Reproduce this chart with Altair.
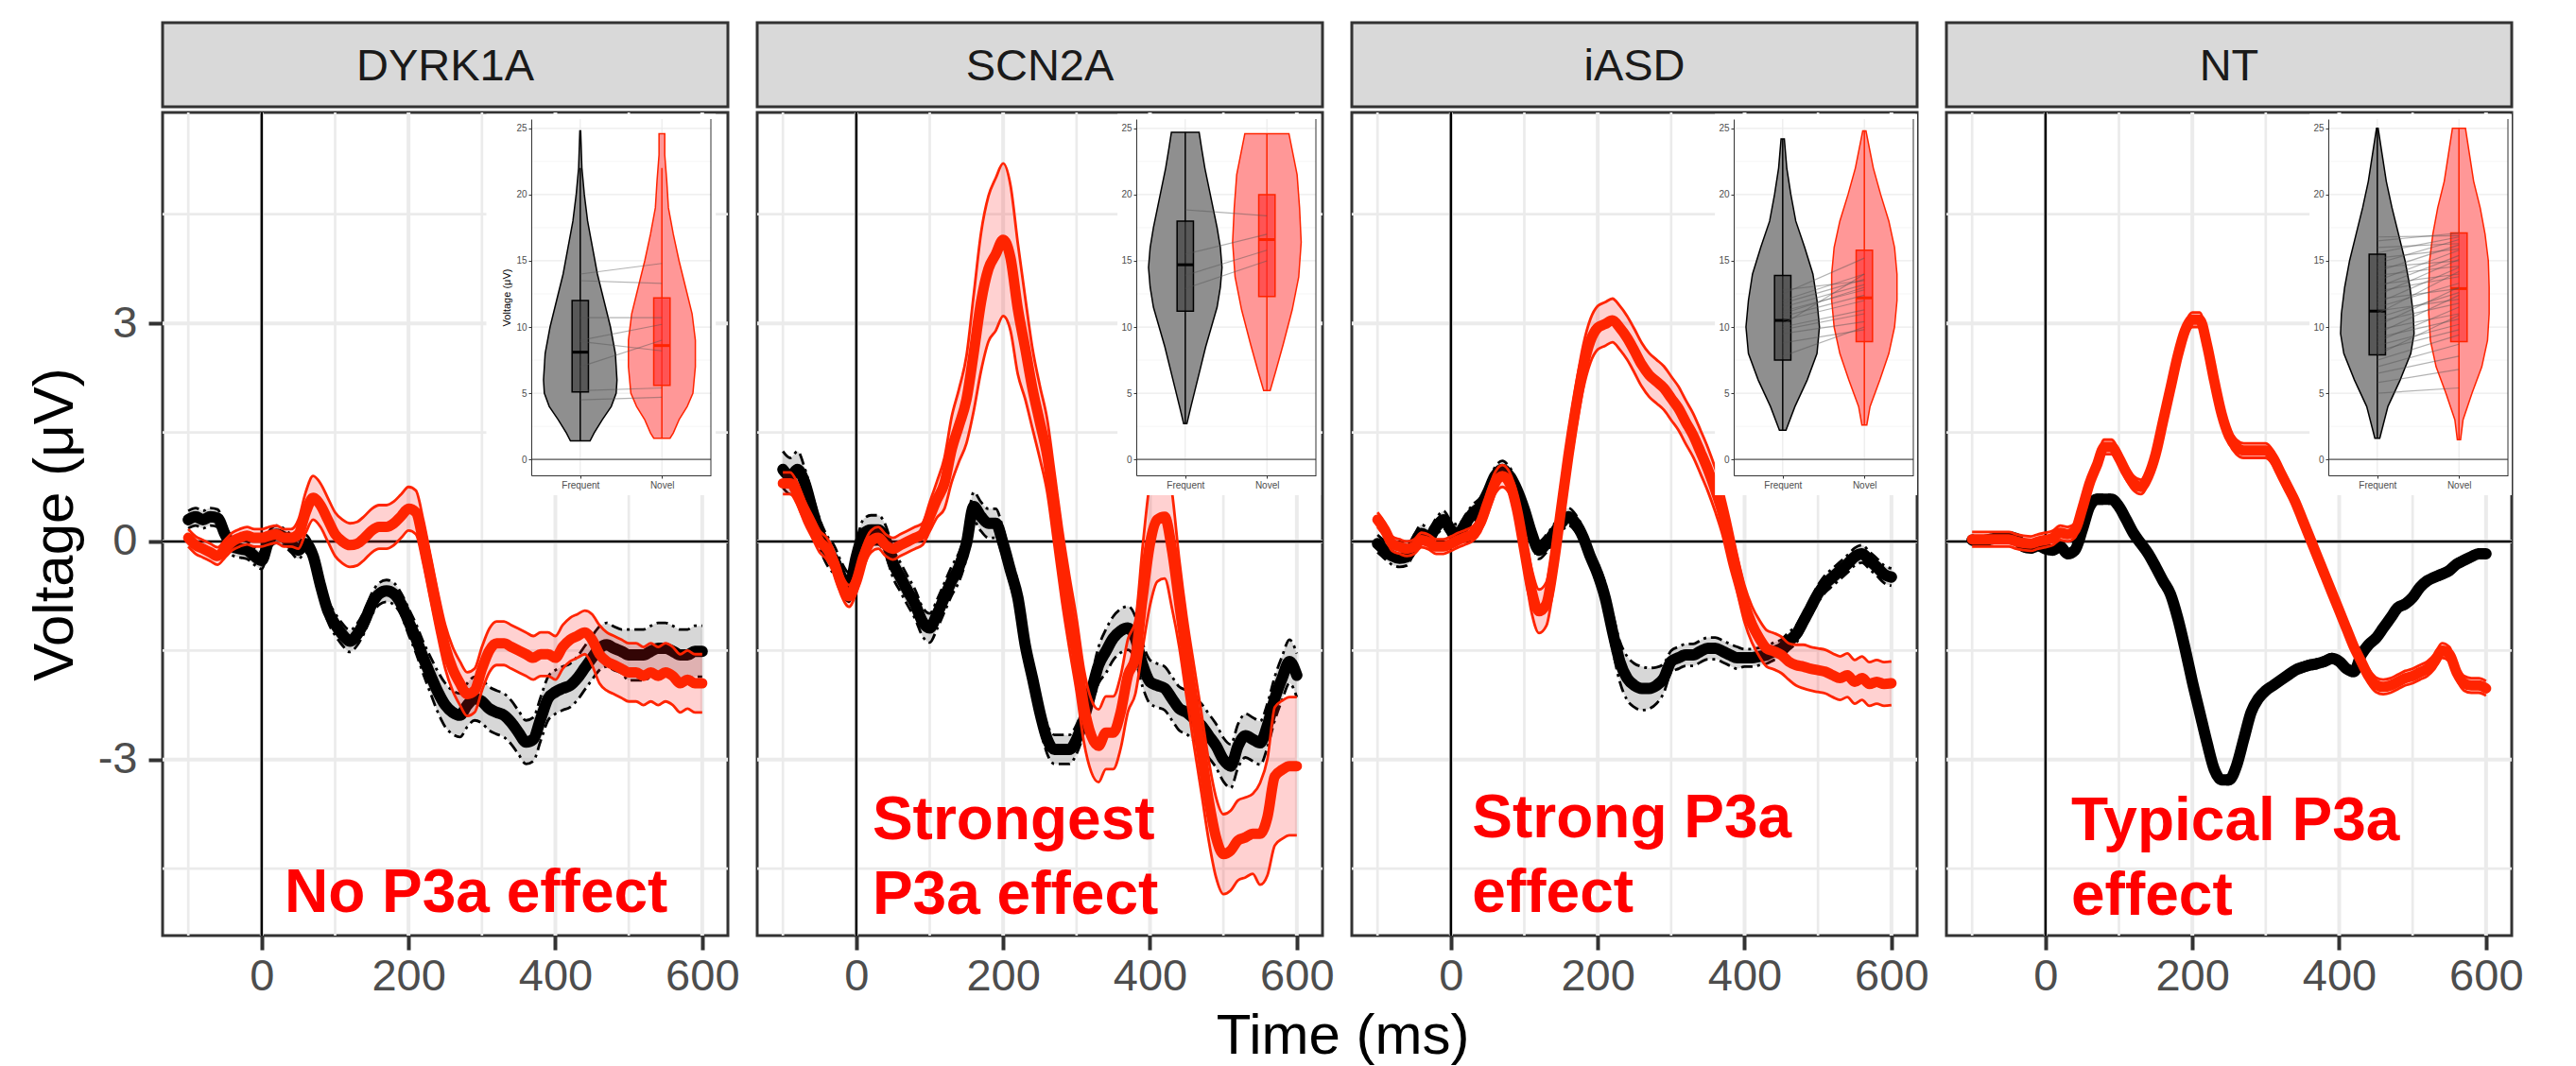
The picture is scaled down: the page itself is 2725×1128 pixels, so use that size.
import altair as alt
import pandas as pd

FONT = "Liberation Sans"

# ---------------- data ----------------
TIMES = list(range(-100, 601, 10))
GROUPS = ["DYRK1A", "SCN2A", "iASD", "NT"]
CONDS = ["Frequent", "Novel"]
COND_POS = [1, 2]

DYRK1A_FREQ = [0.30, 0.34, 0.30, 0.34, 0.32, 0.10, -0.07, -0.10, -0.12, -0.20,
               -0.26, 0.02, 0.10, 0.06, -0.03, -0.12, -0.03, -0.20, -0.60, -0.95,
               -1.14, -1.28, -1.37, -1.28, -1.10, -0.86, -0.72, -0.68, -0.72, -0.86,
               -1.10, -1.33, -1.60, -1.84, -2.07, -2.25, -2.35, -2.39, -2.25, -2.16,
               -2.20, -2.30, -2.35, -2.39, -2.49, -2.63, -2.76, -2.72, -2.44, -2.16,
               -2.07, -2.02, -1.98, -1.88, -1.74, -1.60, -1.47, -1.42, -1.47, -1.51,
               -1.56, -1.56, -1.56, -1.51, -1.47, -1.47, -1.51, -1.56, -1.56, -1.51,
               -1.51]
DYRK1A_FREQ_SE = [0.12] * 10 + [0.12] * 8 + [0.15, 0.15] + [0.15] * 10 + \
                 [0.18, 0.2, 0.22, 0.25, 0.28, 0.3, 0.3, 0.3, 0.3, 0.3] + [0.3] * 20 + [0.35] * 11
DYRK1A_NOV = [0.05, -0.05, -0.10, -0.15, -0.20, -0.10, 0.00, 0.05, 0.08, 0.05,
              0.05, 0.08, 0.10, 0.05, 0.05, 0.10, 0.40, 0.60, 0.50, 0.30,
              0.10, 0.00, -0.05, -0.03, 0.05, 0.15, 0.20, 0.20, 0.25, 0.35,
              0.45, 0.40, 0.00, -0.50, -1.00, -1.45, -1.75, -1.95, -2.10, -2.05,
              -1.75, -1.50, -1.40, -1.40, -1.45, -1.50, -1.55, -1.60, -1.55, -1.55,
              -1.60, -1.45, -1.35, -1.30, -1.25, -1.35, -1.55, -1.65, -1.70, -1.75,
              -1.80, -1.80, -1.85, -1.80, -1.85, -1.80, -1.85, -1.95, -1.90, -1.95,
              -1.95]
DYRK1A_NOV_SE = [0.12] * 15 + [0.2, 0.28, 0.3, 0.3, 0.3] + [0.3] * 35 + \
                [0.35, 0.4, 0.4, 0.4, 0.4] + [0.4] * 11

SCN2A_FREQ = [0.99, 0.90, 0.99, 0.80, 0.44, 0.11, -0.12, -0.26, -0.49, -0.63,
              -0.21, 0.11, 0.16, 0.16, 0.02, -0.30, -0.49, -0.68, -0.86, -1.10,
              -1.19, -1.00, -0.77, -0.54, -0.35, -0.03, 0.48, 0.34, 0.25, 0.25,
              -0.03, -0.40, -0.77, -1.42, -1.88, -2.35, -2.72, -2.86, -2.86, -2.86,
              -2.72, -2.44, -2.07, -1.70, -1.51, -1.33, -1.23, -1.19, -1.33, -1.70,
              -1.93, -1.98, -2.02, -2.16, -2.30, -2.35, -2.44, -2.53, -2.67, -2.81,
              -3.00, -3.09, -2.81, -2.67, -2.72, -2.77, -2.53, -2.16, -1.88, -1.65,
              -1.84]
SCN2A_FREQ_SE = [0.25, 0.25, 0.25] + [0.2] * 40 + [0.25] + [0.3] * 27
SCN2A_NOV = [0.80, 0.80, 0.65, 0.40, 0.20, 0.00, -0.10, -0.30, -0.60, -0.75,
             -0.55, -0.20, 0.00, 0.05, -0.05, -0.10, -0.05, 0.00, 0.05, 0.10,
             0.34, 0.58, 0.80, 1.27, 1.60, 1.95, 2.60, 3.30, 3.75, 3.95,
             4.15, 3.90, 3.20, 2.66, 2.10, 1.64, 1.18, 0.44, -0.31, -0.96,
             -1.56, -2.26, -2.67, -2.81, -2.63, -2.63, -2.35, -1.84, -1.60, -0.77,
             -0.03, 0.30, 0.34, -0.12, -0.86, -1.60, -2.26, -2.90, -3.56, -4.07,
             -4.30, -4.25, -4.11, -4.07, -4.02, -4.02, -3.79, -3.23, -3.14, -3.09,
             -3.09]
SCN2A_NOV_SE = [0.15] * 20 + \
               [0.2, 0.25, 0.35, 0.45, 0.5, 0.6, 0.8, 0.95, 1.0, 1.05] + \
               [1.05, 1.0, 0.9, 0.7, 0.55, 0.5, 0.5, 0.5, 0.5, 0.5] + \
               [0.5] * 9 + [0.7] + \
               [0.85, 0.85, 0.85, 0.8, 0.6, 0.55, 0.55, 0.55, 0.55, 0.55] + \
               [0.55, 0.55, 0.55, 0.55, 0.55, 0.7, 0.8, 0.95, 0.95, 0.95] + [0.95]

IASD_FREQ = [-0.03, -0.12, -0.20, -0.23, -0.21, -0.03, 0.11, 0.06, 0.20, 0.30,
             0.16, 0.11, 0.25, 0.39, 0.48, 0.67, 0.90, 0.99, 0.90, 0.71,
             0.44, 0.11, -0.12, -0.03, 0.11, 0.25, 0.34, 0.25, 0.06, -0.21,
             -0.45, -0.77, -1.23, -1.65, -1.88, -1.98, -2.02, -2.02, -1.98, -1.88,
             -1.65, -1.60, -1.56, -1.56, -1.51, -1.47, -1.47, -1.51, -1.56, -1.60,
             -1.60, -1.60, -1.58, -1.56, -1.51, -1.47, -1.37, -1.28, -1.10, -0.91,
             -0.72, -0.58, -0.49, -0.40, -0.31, -0.21, -0.17, -0.26, -0.35, -0.45,
             -0.49]
IASD_FREQ_SE = [0.12] * 30 + [0.15, 0.2, 0.25, 0.28, 0.3, 0.3, 0.3, 0.28, 0.25, 0.2] + \
               [0.15] * 10 + [0.12] * 21
IASD_NOV = [0.30, 0.16, -0.03, -0.07, -0.10, -0.07, 0.02, -0.01, -0.07, -0.07,
            -0.03, 0.02, 0.06, 0.11, 0.25, 0.53, 0.80, 0.90, 0.80, 0.44,
            -0.12, -0.68, -0.96, -0.86, -0.31, 0.44, 1.18, 1.83, 2.39, 2.76,
            2.94, 2.99, 3.04, 2.94, 2.80, 2.62, 2.43, 2.29, 2.20, 2.11,
            1.97, 1.83, 1.64, 1.46, 1.23, 0.99, 0.71, 0.39, -0.03, -0.45,
            -0.86, -1.14, -1.33, -1.47, -1.51, -1.56, -1.65, -1.70, -1.72, -1.75,
            -1.77, -1.79, -1.84, -1.88, -1.84, -1.93, -1.88, -1.96, -1.93, -1.96,
            -1.95]
IASD_NOV_SE = [0.1] * 14 + [0.12, 0.15, 0.15, 0.15, 0.15, 0.2] + [0.25] + [0.3] * 28 + \
              [0.25] * 8 + [0.28] + [0.3] * 13

NT_FREQ = [0.02, 0.00, 0.02, 0.04, 0.06, 0.06, 0.04, -0.07, -0.09, -0.06,
           -0.10, -0.12, -0.07, -0.17, -0.12, 0.16, 0.48, 0.58, 0.58, 0.58,
           0.48, 0.30, 0.11, -0.03, -0.17, -0.35, -0.54, -0.72, -1.05, -1.47,
           -1.93, -2.35, -2.77, -3.14, -3.28, -3.28, -3.09, -2.72, -2.35, -2.16,
           -2.05, -1.98, -1.91, -1.84, -1.77, -1.73, -1.70, -1.68, -1.65, -1.61,
           -1.65, -1.75, -1.79, -1.56, -1.42, -1.33, -1.19, -1.05, -0.91, -0.86,
           -0.77, -0.63, -0.54, -0.49, -0.45, -0.40, -0.31, -0.26, -0.21, -0.17,
           -0.17]
NT_FREQ_SE = [0.06] * 71
NT_NOV = [0.03, 0.03, 0.03, 0.03, 0.03, 0.03, 0.00, -0.02, -0.03, 0.00,
          0.02, 0.05, 0.12, 0.10, 0.15, 0.45, 0.80, 1.05, 1.30, 1.30,
          1.15, 0.95, 0.80, 0.75, 0.90, 1.20, 1.65, 2.10, 2.55, 2.90,
          3.05, 3.05, 2.70, 2.20, 1.75, 1.45, 1.30, 1.25, 1.25, 1.25,
          1.25, 1.15, 0.95, 0.75, 0.55, 0.30, 0.05, -0.20, -0.45, -0.70,
          -0.95, -1.20, -1.45, -1.65, -1.85, -1.97, -2.00, -1.98, -1.93, -1.88,
          -1.85, -1.80, -1.75, -1.65, -1.50, -1.55, -1.80, -1.95, -1.98, -1.98,
          -2.02]
NT_NOV_SE = [0.1] * 71

# annotation texts
ANNOT_DYRK1A = ["No P3a effect"]
ANNOT_SCN2A = ["Strongest", "P3a effect"]
ANNOT_IASD = ["Strong P3a", "effect"]
ANNOT_NT = ["Typical P3a", "effect"]

# inset violins: voltage level and half-width (in category units)
V_DYRK1A_F_Y = [1.4, 2, 3, 4, 5, 6, 8, 10, 12, 14, 16, 18, 20, 22, 24.8]
V_DYRK1A_F_W = [0.12, 0.17, 0.27, 0.38, 0.44, 0.45, 0.43, 0.37, 0.29, 0.21, 0.15, 0.09, 0.05, 0.02, 0.005]
V_DYRK1A_N_Y = [1.6, 2, 3, 4, 5, 7, 9, 11, 13, 15, 17, 19, 21, 23, 24.6]
V_DYRK1A_N_W = [0.1, 0.14, 0.21, 0.31, 0.38, 0.41, 0.41, 0.37, 0.29, 0.21, 0.14, 0.08, 0.06, 0.035, 0.035]
V_SCN2A_F_Y = [2.7, 4, 5.5, 7, 8.5, 10, 11.5, 13, 14.5, 16, 17.5, 19, 20.5, 22, 23.5, 24.7]
V_SCN2A_F_W = [0.02, 0.07, 0.13, 0.19, 0.25, 0.32, 0.39, 0.43, 0.45, 0.43, 0.39, 0.34, 0.29, 0.24, 0.2, 0.17]
V_SCN2A_N_Y = [5.2, 6.7, 8.7, 11.3, 13.8, 16.4, 19, 21.5, 24.6]
V_SCN2A_N_W = [0.04, 0.11, 0.2, 0.31, 0.39, 0.42, 0.4, 0.37, 0.27]
V_IASD_F_Y = [2.2, 4, 6, 8, 10, 12, 14, 16, 18, 20, 22, 24.2]
V_IASD_F_W = [0.04, 0.15, 0.3, 0.42, 0.45, 0.42, 0.37, 0.27, 0.16, 0.1, 0.05, 0.02]
V_IASD_N_Y = [2.6, 4, 6, 8, 10, 12, 14, 16, 18, 20, 22, 24.8]
V_IASD_N_W = [0.03, 0.07, 0.19, 0.3, 0.37, 0.4, 0.4, 0.37, 0.3, 0.2, 0.11, 0.02]
V_NT_F_Y = [1.6, 4, 6, 8, 9.5, 11, 13, 15, 17, 19, 21, 23, 25]
V_NT_F_W = [0.03, 0.13, 0.28, 0.41, 0.45, 0.44, 0.4, 0.34, 0.26, 0.18, 0.11, 0.06, 0.01]
V_NT_N_Y = [1.5, 3, 5, 7, 9, 11, 13, 15, 17, 19, 21, 23, 25]
V_NT_N_W = [0.02, 0.05, 0.16, 0.28, 0.35, 0.37, 0.37, 0.36, 0.32, 0.26, 0.18, 0.13, 0.08]

# boxplot stats: [whisker low, q1, median, q3, whisker high]
BOX_DYRK1A_F = [1.4, 5.1, 8.1, 12.0, 22.0]
BOX_DYRK1A_N = [1.6, 5.6, 8.6, 12.2, 22.0]
BOX_SCN2A_F = [2.7, 11.2, 14.7, 18.0, 24.7]
BOX_SCN2A_N = [5.2, 12.3, 16.6, 20.0, 24.6]
BOX_IASD_F = [2.2, 7.5, 10.5, 13.9, 24.2]
BOX_IASD_N = [2.6, 8.9, 12.2, 15.8, 24.8]
BOX_NT_F = [1.6, 7.9, 11.2, 15.5, 25.0]
BOX_NT_N = [1.5, 8.9, 12.9, 17.1, 25.0]

# paired subject values (Frequent -> Novel)
PAIR_DYRK1A_F = [14.0, 13.5, 10.7, 9.0, 8.9, 7.0, 5.2, 4.5]
PAIR_DYRK1A_N = [14.8, 13.3, 10.7, 10.2, 8.2, 9.0, 5.4, 4.7]
PAIR_SCN2A_F = [18.85, 15.5, 13.9, 12.9]
PAIR_SCN2A_N = [18.4, 17.0, 15.8, 15.0]
PAIR_IASD_F = [12.8, 12.5, 12.0, 11.8, 11.5, 11.2, 11.0, 10.8, 10.5, 10.2, 10.0, 9.8, 9.5, 8.8, 7.8]
PAIR_IASD_N = [13.5, 15.2, 14.0, 13.6, 13.2, 12.8, 13.0, 12.4, 12.0, 14.0, 11.3, 11.0, 10.4, 9.8, 10.0]
PAIR_NT_F = [16.8, 16.5, 16.0, 15.6, 15.2, 14.8, 14.5, 14.2, 13.9, 13.5, 13.2, 13.0, 12.7, 12.4, 12.1, 11.8, 11.5,
             11.2, 11.0, 10.7, 10.4, 10.1, 9.8, 9.5, 9.2, 8.9, 8.6, 8.2, 7.9, 7.5, 7.0, 6.5, 5.8, 5.0]
PAIR_NT_N = [16.9, 17.1, 16.3, 16.8, 15.9, 16.6, 15.0, 16.2, 14.6, 15.8, 14.0, 15.4, 13.8, 15.1, 12.9, 14.5, 13.3,
             12.1, 14.2, 12.6, 11.8, 13.0, 11.0, 12.4, 10.6, 11.5, 10.2, 9.8, 10.9, 9.4, 8.7, 7.8, 6.8, 5.4]

X_MAJOR = [0, 200, 400, 600]
X_MINOR = [-100, 100, 300, 500]
Y_MAJOR = [-3, 0, 3]
Y_MINOR = [-4.5, -1.5, 1.5, 4.5]
INSET_MAJOR = [0, 5, 10, 15, 20, 25]
INSET_MINOR = [2.5, 7.5, 12.5, 17.5, 22.5]

ERP = {
    "DYRK1A": (DYRK1A_FREQ, DYRK1A_FREQ_SE, DYRK1A_NOV, DYRK1A_NOV_SE),
    "SCN2A": (SCN2A_FREQ, SCN2A_FREQ_SE, SCN2A_NOV, SCN2A_NOV_SE),
    "iASD": (IASD_FREQ, IASD_FREQ_SE, IASD_NOV, IASD_NOV_SE),
    "NT": (NT_FREQ, NT_FREQ_SE, NT_NOV, NT_NOV_SE),
}
ANNOT = {"DYRK1A": ANNOT_DYRK1A, "SCN2A": ANNOT_SCN2A, "iASD": ANNOT_IASD, "NT": ANNOT_NT}
# annotation anchor (ms, µV of first baseline)
ANNOT_POS = {"DYRK1A": (31, -5.1), "SCN2A": (22, -4.09), "iASD": (29, -4.07), "NT": (35, -4.11)}
VIOLIN = {
    "DYRK1A": ((V_DYRK1A_F_Y, V_DYRK1A_F_W), (V_DYRK1A_N_Y, V_DYRK1A_N_W)),
    "SCN2A": ((V_SCN2A_F_Y, V_SCN2A_F_W), (V_SCN2A_N_Y, V_SCN2A_N_W)),
    "iASD": ((V_IASD_F_Y, V_IASD_F_W), (V_IASD_N_Y, V_IASD_N_W)),
    "NT": ((V_NT_F_Y, V_NT_F_W), (V_NT_N_Y, V_NT_N_W)),
}
BOX = {
    "DYRK1A": (BOX_DYRK1A_F, BOX_DYRK1A_N),
    "SCN2A": (BOX_SCN2A_F, BOX_SCN2A_N),
    "iASD": (BOX_IASD_F, BOX_IASD_N),
    "NT": (BOX_NT_F, BOX_NT_N),
}
PAIRS = {
    "DYRK1A": (PAIR_DYRK1A_F, PAIR_DYRK1A_N),
    "SCN2A": (PAIR_SCN2A_F, PAIR_SCN2A_N),
    "iASD": (PAIR_IASD_F, PAIR_IASD_N),
    "NT": (PAIR_NT_F, PAIR_NT_N),
}
for g in GROUPS:
    for arr in ERP[g]:
        assert len(arr) == len(TIMES), (g, len(arr))

# ---------------- styling / geometry ----------------
W, H, SH = 598, 871, 89
XS = alt.Scale(domain=[-135, 635], nice=False, zero=False)
YS = alt.Scale(domain=[-5.42, 5.9], nice=False, zero=False)
INSET_LEFT = {"DYRK1A": 390, "SCN2A": 401, "iASD": 404, "NT": 404}
IN_WIDTH, IN_TOP, IN_BOTTOM = 190, 7, 384
YI = alt.Scale(domain=[-1.2, 25.7], range=[IN_BOTTOM, IN_TOP], nice=False, zero=False)
GRID = "#EBEBEB"
BLACK_COL = "#000000"
RED_COL = "#FF2400"


def XM(f, axis=None):
    return alt.X(f, type="quantitative", scale=XS, axis=axis)


def YM(f, axis=None):
    return alt.Y(f, type="quantitative", scale=YS, axis=axis)


def YIe(f, axis=None):
    return alt.Y(f, type="quantitative", scale=YI, axis=axis)


def x_axis():
    return alt.Axis(orient="bottom", values=X_MAJOR, grid=False, domain=False, ticks=True,
                    tickColor="#333333", tickWidth=4, tickSize=15, labelFontSize=47,
                    labelColor="#4D4D4D", labelFont=FONT, labelPadding=5, title=None,
                    labelFlush=False, labelOverlap=False, labelExpr="toString(datum.value)")


def y_axis():
    return alt.Axis(orient="left", values=Y_MAJOR, grid=False, domain=False, ticks=True,
                    tickColor="#333333", tickWidth=4, tickSize=15, labelFontSize=47,
                    labelColor="#4D4D4D", labelFont=FONT, labelPadding=12, title="Voltage (μV)",
                    titleFontSize=60, titleFont=FONT, titleFontWeight="normal",
                    titleColor="#000000", titlePadding=14, labelExpr="toString(datum.value)")


def main_layers(g, first):
    fm, fs, nm, ns = ERP[g]
    vmaj = alt.Chart(pd.DataFrame({"t": X_MAJOR})).mark_rule(color=GRID, strokeWidth=4).encode(
        x=XM("t", x_axis()))
    vmin = alt.Chart(pd.DataFrame({"t": X_MINOR})).mark_rule(color=GRID, strokeWidth=2.7).encode(
        x=XM("t"))
    hmaj = alt.Chart(pd.DataFrame({"v": Y_MAJOR})).mark_rule(color=GRID, strokeWidth=4).encode(
        y=YM("v", y_axis() if first else None))
    hmin = alt.Chart(pd.DataFrame({"v": Y_MINOR})).mark_rule(color=GRID, strokeWidth=2.7).encode(
        y=YM("v"))
    z0x = alt.Chart(pd.DataFrame({"t": [0]})).mark_rule(color="#000000", strokeWidth=2.5).encode(
        x=XM("t"))
    z0y = alt.Chart(pd.DataFrame({"v": [0]})).mark_rule(color="#000000", strokeWidth=2.5).encode(
        y=YM("v"))

    layers = [vmin, hmin, vmaj, hmaj, z0x, z0y]

    def series(mean, se, kind):
        df = pd.DataFrame({"t": TIMES, "m": mean,
                           "lo": [m - s for m, s in zip(mean, se)],
                           "hi": [m + s for m, s in zip(mean, se)]})
        edges = pd.concat([
            pd.DataFrame({"t": TIMES, "v": df["lo"], "b": "lo"}),
            pd.DataFrame({"t": TIMES, "v": df["hi"], "b": "hi"}),
        ])
        if kind == "F":
            band = alt.Chart(df).mark_area(color="#BDBDBD", opacity=0.6, interpolate="monotone").encode(
                x=XM("t"), y=YM("lo"), y2="hi:Q")
            edge = alt.Chart(edges).mark_line(color="#000000", strokeWidth=2.8, strokeDash=[12, 5, 3, 5],
                                              interpolate="monotone").encode(
                x=XM("t"), y=YM("v"), detail="b:N")
            line = alt.Chart(df).mark_line(color=BLACK_COL, strokeWidth=12, strokeCap="round",
                                           strokeJoin="round", interpolate="monotone").encode(
                x=XM("t"), y=YM("m"))
        else:
            band = alt.Chart(df).mark_area(color="#FF1A1A", opacity=0.2, interpolate="monotone").encode(
                x=XM("t"), y=YM("lo"), y2="hi:Q")
            edge = alt.Chart(edges).mark_line(color=RED_COL, strokeWidth=2.8, interpolate="monotone").encode(
                x=XM("t"), y=YM("v"), detail="b:N")
            line = alt.Chart(df).mark_line(color=RED_COL, strokeWidth=11, strokeCap="round",
                                           strokeJoin="round", interpolate="monotone").encode(
                x=XM("t"), y=YM("m"))
        return [band, edge, line]

    layers += series(fm, fs, "F")
    layers += series(nm, ns, "N")
    return layers


def annot_layer(g):
    ax, ay = ANNOT_POS[g]
    return alt.Chart(pd.DataFrame({"t": [ax], "v": [ay]})).mark_text(
        text=ANNOT[g], align="left", baseline="alphabetic", font=FONT, fontSize=64,
        fontWeight="bold", color="#FF0000", lineHeight=79).encode(x=XM("t"), y=YM("v"))


def inset_layers(g, first):
    left = INSET_LEFT[g]
    XI = alt.Scale(domain=[0.4, 2.6], range=[left, left + IN_WIDTH], nice=False, zero=False)

    def XIe(f, axis=None):
        return alt.X(f, type="quantitative", scale=XI, axis=axis)

    xa = alt.Axis(orient="bottom", offset=-(H - IN_BOTTOM), values=COND_POS, zindex=2,
                  labelExpr="datum.value == 1 ? 'Frequent' : 'Novel'", labelFontSize=10,
                  labelColor="#4D4D4D", labelFont=FONT, tickSize=3, tickColor="#333333",
                  domainColor="#333333", domainWidth=1, grid=False, title=None, labelPadding=2,
                  labelFlush=False)
    ya = alt.Axis(orient="left", offset=-left, values=INSET_MAJOR, zindex=2, labelFontSize=10,
                  labelColor="#4D4D4D", labelFont=FONT, tickSize=3, tickColor="#333333",
                  domainColor="#333333", domainWidth=1, grid=False,
                  title="Voltage (μV)" if first else None, titleFontSize=11, titleFont=FONT,
                  titleFontWeight="normal", titleColor="#000000", titlePadding=4, labelPadding=2)
    bg_left = -0.15 if first else 0.17
    bg = alt.Chart(pd.DataFrame({"x1": [bg_left], "x2": [2.66], "y1": [-2.7], "y2": [26.1]})).mark_rect(
        fill="white", clip=True).encode(x=XIe("x1", xa), x2="x2:Q", y=YIe("y1", ya), y2="y2:Q")
    gmin = alt.Chart(pd.DataFrame({"v": INSET_MINOR, "x1": [0.4] * 5, "x2": [2.6] * 5})).mark_rule(
        color="#F2F2F2", strokeWidth=0.8).encode(y=YIe("v"), x=XIe("x1"), x2="x2:Q")
    gmaj = alt.Chart(pd.DataFrame({"v": INSET_MAJOR, "x1": [0.4] * 6, "x2": [2.6] * 6})).mark_rule(
        color=GRID, strokeWidth=1.2).encode(y=YIe("v"), x=XIe("x1"), x2="x2:Q")
    gver = alt.Chart(pd.DataFrame({"p": COND_POS, "y1": [-1.2] * 2, "y2": [25.7] * 2})).mark_rule(
        color=GRID, strokeWidth=1.2).encode(x=XIe("p"), y=YIe("y1"), y2="y2:Q")
    zero = alt.Chart(pd.DataFrame({"v": [0], "x1": [0.4], "x2": [2.6]})).mark_rule(
        color="#555555", strokeWidth=1.2).encode(y=YIe("v"), x=XIe("x1"), x2="x2:Q")
    frame = alt.Chart(pd.DataFrame({"p": [2.6], "y1": [-1.2], "y2": [25.7]})).mark_rule(
        color="#333333", strokeWidth=1).encode(x=XIe("p"), y=YIe("y1"), y2="y2:Q")
    layers = [bg, gmin, gmaj, gver, zero, frame]

    styles = [("#8F8F8F", "#000000", "#3A3A3A"), ("#FF9797", RED_COL, "#FF3030")]
    for ci, (pos, (fillc, strokec, boxc)) in enumerate(zip(COND_POS, styles)):
        vy, vw = VIOLIN[g][ci]
        vdf = pd.DataFrame({"y": vy, "l": [pos - w for w in vw], "r": [pos + w for w in vw]})
        layers.append(alt.Chart(vdf).mark_area(orient="horizontal", fill=fillc, stroke=strokec,
                                               strokeWidth=1.5, interpolate="linear").encode(
            y=YIe("y"), x=XIe("l"), x2="r:Q"))
    for ci, (pos, (fillc, strokec, boxc)) in enumerate(zip(COND_POS, styles)):
        lo, q1, med, q3, hi = BOX[g][ci]
        bdf = pd.DataFrame({"p": [pos], "l": [pos - 0.1], "r": [pos + 0.1],
                            "lo": [lo], "q1": [q1], "med": [med], "q3": [q3], "hi": [hi]})
        layers.append(alt.Chart(bdf).mark_rule(color=strokec, strokeWidth=1.5).encode(
            x=XIe("p"), y=YIe("lo"), y2="hi:Q"))
        layers.append(alt.Chart(bdf).mark_rect(fill=boxc, fillOpacity=0.65, stroke=strokec,
                                               strokeWidth=1.5).encode(
            x=XIe("l"), x2="r:Q", y=YIe("q1"), y2="q3:Q"))
        layers.append(alt.Chart(bdf).mark_rule(color=strokec, strokeWidth=3).encode(
            x=XIe("l"), x2="r:Q", y=YIe("med")))
    pf, pn = PAIRS[g]
    pdf = pd.DataFrame({
        "id": list(range(len(pf))) * 2,
        "p": [COND_POS[0]] * len(pf) + [COND_POS[1]] * len(pn),
        "v": pf + pn,
    })
    layers.append(alt.Chart(pdf).mark_line(color="#555555", opacity=0.45, strokeWidth=1.2).encode(
        x=XIe("p"), y=YIe("v"), detail="id:N"))
    return layers


strips = []
panels = []
for i, g in enumerate(GROUPS):
    first = i == 0
    strips.append(alt.Chart(pd.DataFrame({"g": [g]})).mark_text(
        font=FONT, fontSize=47, color="#1A1A1A", align="center", baseline="middle").encode(
        text="g:N", x=alt.value(W / 2), y=alt.value(SH / 2 + 2)).properties(
        width=W, height=SH,
        view=alt.ViewBackground(fill="#D9D9D9", stroke="#333333", strokeWidth=3)))
    layers = main_layers(g, first) + inset_layers(g, first) + [annot_layer(g)]
    panels.append(alt.layer(*layers).resolve_scale(x="independent", y="independent").properties(
        width=W, height=H,
        view=alt.ViewBackground(fill="white", stroke="#333333", strokeWidth=3)))

strip_row = alt.hconcat(*strips, spacing=31, bounds="flush")
panel_row = alt.hconcat(*panels, spacing=31, bounds="flush")

chart = alt.vconcat(strip_row, panel_row, spacing=0).properties(
    title=alt.TitleParams("Time (ms)", orient="bottom", anchor="middle", fontSize=60, font=FONT,
                          fontWeight="normal", color="#000000", dx=72, offset=10),
    padding={"left": 18, "top": 14, "right": 5, "bottom": 5},
).configure(font=FONT).configure_view(stroke=None)

chart.save("out.html", embed_options={"renderer": "svg", "actions": False})
